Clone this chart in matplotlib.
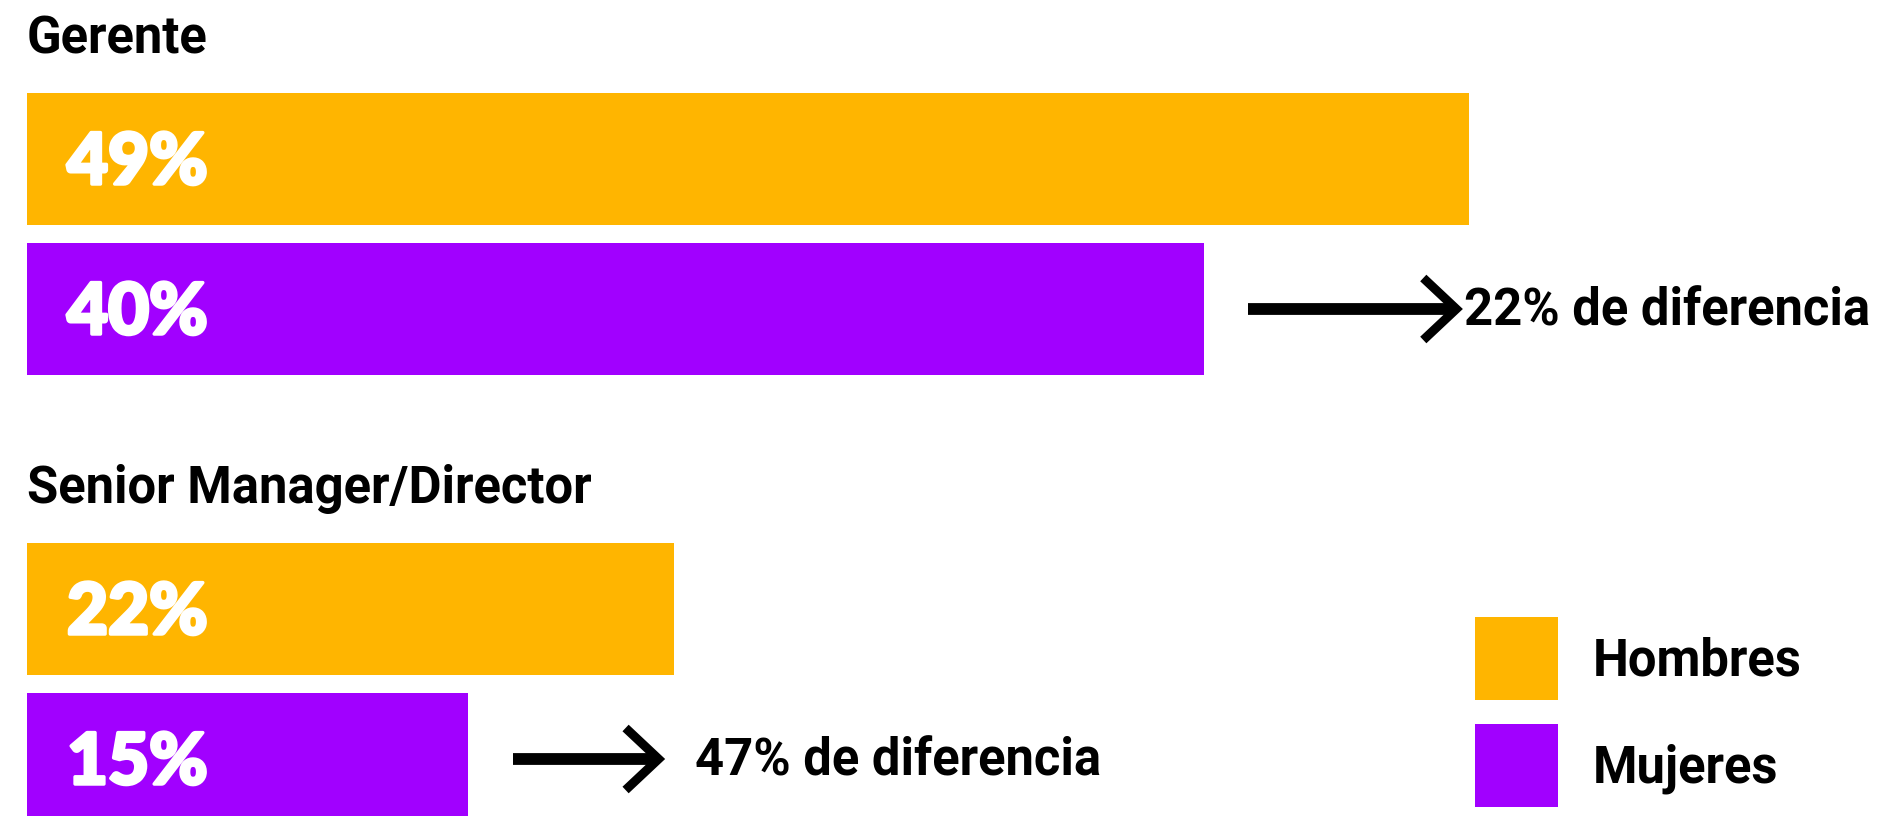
import matplotlib.pyplot as plt
import matplotlib.patheffects as pe
from matplotlib.patches import Rectangle

# data
groups = ['Gerente', 'Senior Manager/Director']
hombres = [49, 22]
mujeres = [40, 15]
diferencia = ['22% de diferencia', '47% de diferencia']
series = ['Hombres', 'Mujeres']
colors = ['#FFB500', '#A100FF']

# layout (pixels)
W, H = 1880, 816
X0 = 27                 # pixel of 0 %
S = 1442 / 49           # pixels per percentage point
group_top = [0, 450]
bar_h = 132
arrow_len = [208, 146]  # shaft length in px
text_gap = [8, 36]      # gap between arrow tip and label in px

FONT = 'Roboto'
NUM_FONT = ['Lato', 'Roboto']

fig = plt.figure(figsize=(W / 100, H / 100), dpi=100)
ax = fig.add_axes([0, 0, 1, 1])
ax.axis('off')
ax.set_xlim(-X0 / S, (W - X0) / S)
ax.set_ylim(H, 0)


def px(n):
    # length in pixels -> data units on x
    return n / S


# heavier look for the numbers inside the bars
heavy = [pe.withStroke(linewidth=2.5, foreground='white')]

for i, g in enumerate(groups):
    top = group_top[i]
    y_h = top + 159
    y_m = top + 309
    ax.text(0, top + 53, g, fontsize=36.5, fontweight='bold', family=FONT,
            ha='left', va='baseline', color='black')

    ax.barh(y_h, hombres[i], height=bar_h, left=0, color=colors[0])
    ax.barh(y_m, mujeres[i], height=bar_h, left=0, color=colors[1])

    for y, v in [(y_h, hombres[i]), (y_m, mujeres[i])]:
        ax.text(px(40), y + 25, f'{v}%', fontsize=51, fontweight='black',
                family=NUM_FONT, ha='left', va='baseline', color='white',
                path_effects=heavy)

    # arrow with difference
    x_start = mujeres[i] + 1.5
    tip = x_start + px(arrow_len[i])
    ax.plot([x_start, tip - px(4)], [y_m, y_m], color='black', lw=8.5,
            solid_capstyle='butt')
    ax.plot([tip - px(33), tip, tip - px(33)], [y_m - 31, y_m, y_m + 31],
            color='black', lw=6.5, solid_joinstyle='miter',
            solid_capstyle='butt')
    ax.text(tip + px(text_gap[i]), y_m + 17, diferencia[i], fontsize=36.5,
            fontweight='bold', family=FONT, ha='left', va='baseline',
            color='black')

# legend
leg_y = [617, 724]
for j, name in enumerate(series):
    ax.add_patch(Rectangle((px(1475 - X0), leg_y[j]), px(83), 83,
                           color=colors[j], lw=0))
    ax.text(px(1593 - X0), leg_y[j] + 59, name, fontsize=36.5,
            fontweight='bold', family=FONT, ha='left', va='baseline',
            color='black')

fig.savefig('out.png', dpi=100, facecolor='white')
